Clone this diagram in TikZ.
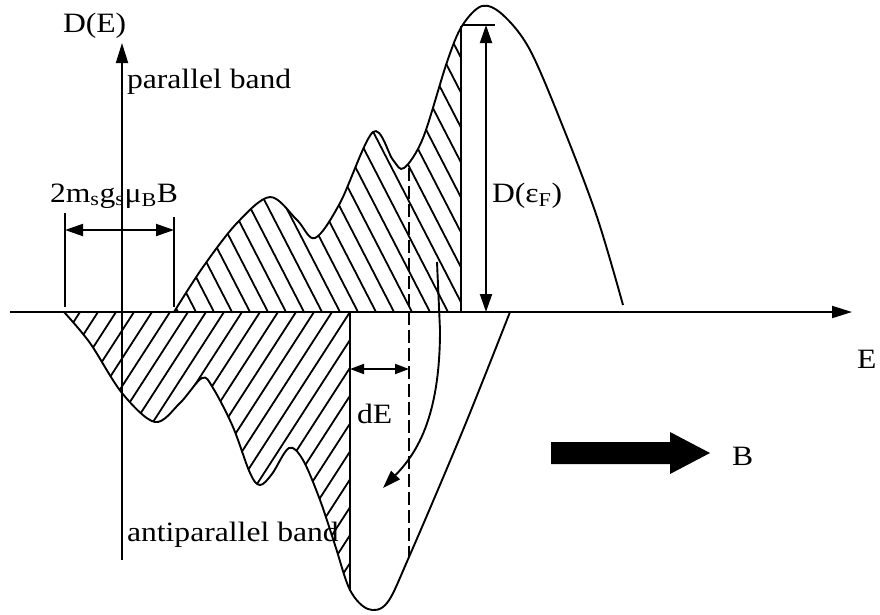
\documentclass[tikz,border=0pt]{standalone}
\usepackage{fontspec}
\setmainfont{Liberation Serif}
\usetikzlibrary{arrows.meta}
\newcommand\lbl[1]{\scalebox{1.13}[1]{#1}}
\begin{document}
\begin{tikzpicture}[x=1pt,y=1pt,line width=1.9pt,
  every node/.style={font=\fontsize{28}{32}\selectfont,inner sep=0pt,outer sep=0pt},
  axisarrow/.style={-{Triangle[length=20pt,width=12pt]}},
  dimarrow/.style={{Triangle[length=18pt,width=12pt]}-{Triangle[length=18pt,width=12pt]}},
  smallarrow/.style={{Triangle[length=14pt,width=10pt]}-{Triangle[length=14pt,width=10pt]}},
  hatchline/.style={line width=1.8pt},
  bandcurve/.style={line width=1.9pt}]
\useasboundingbox (0,0) rectangle (880,-614);

% hatching, parallel band
\begin{scope}
  \clip (174,-312) -- plot[smooth,tension=0.55] coordinates {(174,-312) (203,-267) (237,-223) (270,-197) (297,-220) (315,-238) (340,-203) (373,-132) (393,-160) (404,-168) (423,-138) (447,-62) (462,-26) (482,-6) (503,-15) (530,-50) (563,-127) (597,-217) (623,-305)} -- (623,-312) -- cycle;
  \clip (174,0) rectangle (461,-312);
  \foreach \k in {0,...,28} { \draw[hatchline] ({178+18*\k},-312) -- ++(-170,330); }
\end{scope}
% hatching, antiparallel band
\begin{scope}
  \clip (64,-312) -- plot[smooth,tension=0.55] coordinates {(64,-312) (90,-343) (122,-393) (155,-422) (180,-403) (202,-378) (213,-388) (233,-427) (250,-473) (260,-485) (272,-474) (289,-448) (303,-460) (320,-500) (335,-545) (350,-590) (368,-609) (387,-603) (409,-557) (463,-430) (510,-312)} -- cycle;
  \clip (64,-312) rectangle (350,-620);
  \foreach \k in {0,...,28} { \draw[hatchline] ({80+18*\k},-312) -- ++(-200,-310); }
\end{scope}

% band curves
\draw[bandcurve] plot[smooth,tension=0.55] coordinates {(174,-312) (203,-267) (237,-223) (270,-197) (297,-220) (315,-238) (340,-203) (373,-132) (393,-160) (404,-168) (423,-138) (447,-62) (462,-26) (482,-6) (503,-15) (530,-50) (563,-127) (597,-217) (623,-305)};
\draw[bandcurve] plot[smooth,tension=0.55] coordinates {(64,-312) (90,-343) (122,-393) (155,-422) (180,-403) (202,-378) (213,-388) (233,-427) (250,-473) (260,-485) (272,-474) (289,-448) (303,-460) (320,-500) (335,-545) (350,-590) (368,-609) (387,-603) (409,-557) (463,-430) (510,-312)};

% axes
\coordinate (xs) at (10,-312);
\coordinate (xe) at (852,-312);
\coordinate (ys) at (122,-560);
\coordinate (ye) at (122,-43);
\draw[axisarrow] (xs) -- (xe);
\draw[axisarrow] (ys) -- (ye);

% Fermi level lines
\coordinate (fb) at (461,-312);
\coordinate (ft) at (461,-26);
\draw (fb) -- (ft);
\coordinate (tl) at (463,-25);
\coordinate (tr) at (495,-25);
\draw (tl) -- (tr);
\coordinate (da) at (486,-25);
\coordinate (db) at (486,-312);
\draw[dimarrow] (da) -- (db);

% lower solid line
\coordinate (lt) at (350,-312);
\coordinate (lb) at (350,-591);
\draw (lt) -- (lb);
% dashed line
\coordinate (dt) at (409,-168);
\coordinate (dbm) at (409,-557);
\draw[dash pattern=on 13pt off 5pt] (dt) -- (dbm);
% dE arrow
\coordinate (ea) at (350,-369);
\coordinate (eb) at (409,-369);
\draw[smallarrow] (ea) -- (eb);

% curved arrow
\coordinate (cs) at (437,-262);
\coordinate (ce) at (383,-488);
\draw[-{Triangle[length=18pt,width=12pt]}] (cs) -- (440,-330) .. controls (440,-420) and (415,-455) .. (ce);

% Zeeman splitting dimension
\coordinate (zl1) at (65,-213);
\coordinate (zl2) at (65,-307);
\coordinate (zr1) at (174,-217);
\coordinate (zr2) at (174,-307);
\draw (zl1) -- (zl2);
\draw (zr1) -- (zr2);
\coordinate (za) at (65,-230);
\coordinate (zb) at (174,-230);
\draw[dimarrow] (za) -- (zb);

% big B arrow
\fill (551,-442) -- (670,-442) -- (670,-432) -- (710,-453) -- (670,-474) -- (670,-464) -- (551,-464) -- cycle;

% labels
\node[anchor=base west] (lDE) at (63,-32) {\lbl{D(E)}};
\node[anchor=base west] (lpar) at (127,-88) {\lbl{parallel band}};
\node[anchor=base west] (lzee) at (50,-202) {\lbl{2m\textsubscript{s}g\textsubscript{s}μ\textsubscript{B}B}};
\node[anchor=base west] (lDF) at (492,-202) {\lbl{D(ε\textsubscript{F})}};
\node[anchor=base west] (lE) at (857,-368) {\lbl{E}};
\node[anchor=base west] (ldE) at (357,-423) {\lbl{dE}};
\node[anchor=base west] (lanti) at (127,-541) {\lbl{antiparallel band}};
\node[anchor=base west] (lB) at (732,-465) {\lbl{B}};
\end{tikzpicture}
\end{document}
